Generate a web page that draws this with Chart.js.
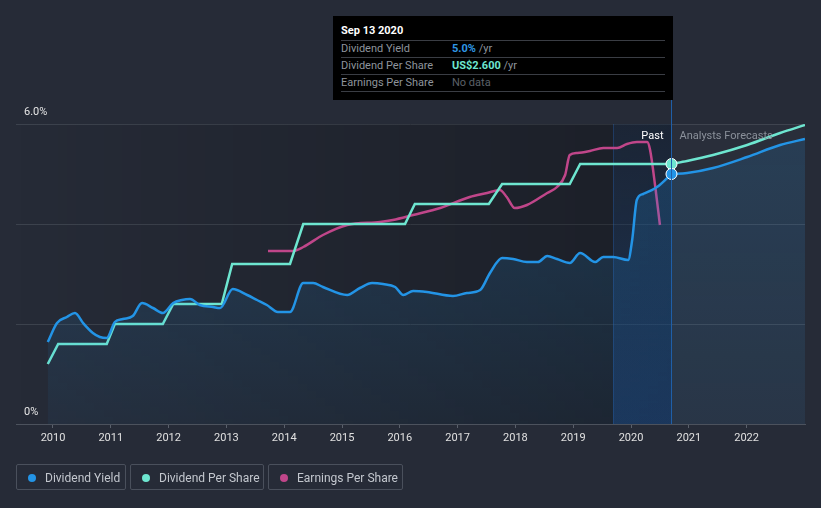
<!DOCTYPE html>
<html>
<head>
<meta charset="utf-8">
<script src="https://cdn.jsdelivr.net/npm/chart.js@4.4.0/dist/chart.umd.min.js"></script>
<style>
  html, body { margin: 0; padding: 0; background: #262b37; font-family: Roboto, "Noto Sans", sans-serif; }
  #wrap { position: relative; width: 821px; height: 508px; }
  canvas { position: absolute; left: 0; top: 0; }
  .tip { position: absolute; left: 333px; top: 16px; width: 340px; height: 84px; background: #000; }
  .tip .date { position: absolute; left: 8px; top: 8px; color: #fff; font-size: 11px; font-weight: bold; }
  .tip .row { position: absolute; left: 8px; width: 324px; height: 16px; border-top: 1px solid #3a3d44; font-size: 11px; line-height: 16px; color: #8e949c; }
  .tip .row span.v { position: absolute; left: 111px; }
  .legend { position: absolute; top: 464px; height: 26px; border: 1px solid #4a505c; border-radius: 2px; color: #c3c7ce; font-size: 12px; line-height: 26px; box-sizing: border-box; }
  .legend i { position: absolute; left: 11px; top: 9px; width: 8px; height: 8px; border-radius: 50%; }
  .legend span { position: absolute; left: 28px; white-space: nowrap; }
</style>
</head>
<body>
<div id="wrap">
  <canvas id="chart" width="821" height="508"></canvas>
  <div class="tip">
    <div class="date">Sep 13 2020</div>
    <div class="row" style="top:24px">Dividend Yield<span class="v"><b style="color:#2f97e6">5.0%</b> /yr</span></div>
    <div class="row" style="top:41px">Dividend Per Share<span class="v"><b style="color:#6ee6d0">US$2.600</b> /yr</span></div>
    <div class="row" style="top:58px;border-bottom:1px solid #3a3d44">Earnings Per Share<span class="v" style="color:#5c6068">No data</span></div>
  </div>
  <div class="legend" style="left:16px;width:110px"><i style="background:#2394e6"></i><span>Dividend Yield</span></div>
  <div class="legend" style="left:130px;width:134px"><i style="background:#6ee6d0"></i><span>Dividend Per Share</span></div>
  <div class="legend" style="left:268px;width:135px"><i style="background:#c0468a"></i><span>Earnings Per Share</span></div>
</div>
<script>
// decimal years
const yieldYears = [2009.91, 2010.07, 2010.24, 2010.38, 2010.52, 2010.69, 2010.81, 2010.93, 2011.07, 2011.21,
  2011.38, 2011.54, 2011.73, 2011.90, 2012.08, 2012.23, 2012.37, 2012.54, 2012.77, 2012.89,
  2013.11, 2013.36, 2013.53, 2013.70, 2013.89, 2014.10, 2014.33, 2014.50, 2014.67, 2015.09,
  2015.31, 2015.52, 2015.71, 2015.92, 2016.06, 2016.23, 2016.47, 2016.92, 2017.16, 2017.39,
  2017.56, 2017.77, 2017.96, 2018.20, 2018.39, 2018.55, 2018.72, 2018.94, 2019.12, 2019.38,
  2019.52, 2019.69, 2019.95, 2020.02, 2020.10, 2020.21, 2020.45, 2020.70];
const yieldPct = [1.64, 2.02, 2.14, 2.22, 2.02, 1.82, 1.74, 1.72, 2.04, 2.10,
  2.16, 2.42, 2.32, 2.22, 2.42, 2.48, 2.50, 2.38, 2.34, 2.32,
  2.70, 2.58, 2.48, 2.38, 2.24, 2.24, 2.82, 2.82, 2.74, 2.58,
  2.72, 2.82, 2.80, 2.74, 2.58, 2.66, 2.64, 2.56, 2.62, 2.68,
  3.02, 3.32, 3.30, 3.24, 3.24, 3.36, 3.30, 3.22, 3.42, 3.24,
  3.34, 3.34, 3.28, 3.68, 4.48, 4.60, 4.74, 5.00];
const yieldFcYears = [2020.70, 2020.97, 2021.42, 2022.01, 2022.58, 2023.01];
const yieldFcPct = [5.00, 5.02, 5.12, 5.34, 5.58, 5.70];

const dpsYears = [2009.91, 2010.09, 2010.93, 2011.07, 2011.90, 2012.08, 2012.92, 2013.10, 2014.10, 2014.33,
  2016.09, 2016.26, 2017.54, 2017.77, 2018.94, 2019.12, 2020.70];
const dpsUsd = [0.60, 0.80, 0.80, 1.00, 1.00, 1.20, 1.20, 1.60, 1.60, 2.00,
  2.00, 2.20, 2.20, 2.40, 2.40, 2.60, 2.60];
const dpsFcYears = [2020.70, 2020.97, 2021.42, 2022.01, 2022.58, 2023.01];
const dpsFcUsd = [2.60, 2.63, 2.69, 2.79, 2.91, 2.99];

const epsYears = [2013.72, 2014.15, 2014.33, 2014.67, 2015.09, 2015.66, 2015.88, 2016.23, 2016.70, 2017.21,
  2017.51, 2017.73, 2017.85, 2017.99, 2018.20, 2018.55, 2018.72, 2018.86, 2018.94, 2019.07,
  2019.29, 2019.52, 2019.76, 2019.93, 2020.10, 2020.28, 2020.33, 2020.42, 2020.50];
const epsUsd = [6.92, 6.92, 7.08, 7.56, 7.96, 8.08, 8.16, 8.36, 8.64, 9.08,
  9.24, 9.36, 9.08, 8.64, 8.76, 9.24, 9.48, 9.96, 10.76, 10.84,
  10.92, 11.04, 11.04, 11.20, 11.28, 11.28, 10.96, 9.48, 7.96];

const xTickYears = [2010, 2011, 2012, 2013, 2014, 2015, 2016, 2017, 2018, 2019, 2020, 2021, 2022];
const yTickLabels = { 0: "0%", 6: "6.0%" };
const nowYear = 2020.70;
const bandStart = 2019.69;

const pts = (xs, ys) => xs.map((x, i) => ({ x: x, y: ys[i] }));
const marker = ctx => (ctx.raw && ctx.raw.x === nowYear ? 5.5 : 0);

const bgPlugin = {
  id: "bg",
  beforeDatasetsDraw(chart) {
    const { ctx, chartArea: a, scales } = chart;
    const xNow = scales.x.getPixelForValue(nowYear);
    const xBand = scales.x.getPixelForValue(bandStart);
    ctx.save();
    // past region darkening
    let g = ctx.createLinearGradient(a.left, 0, xNow, 0);
    g.addColorStop(0, "rgba(0,0,0,0)");
    g.addColorStop(1, "rgba(0,0,0,0.28)");
    ctx.fillStyle = g;
    ctx.fillRect(a.left, a.top, xNow - a.left, a.bottom - a.top);
    // forecast region
    ctx.fillStyle = "rgba(255,255,255,0.015)";
    ctx.fillRect(xNow, a.top, a.right - xNow, a.bottom - a.top);
    // highlight band
    g = ctx.createLinearGradient(0, a.top, 0, a.bottom);
    g.addColorStop(0, "rgba(25,90,170,0.10)");
    g.addColorStop(1, "rgba(25,95,190,0.30)");
    ctx.fillStyle = g;
    ctx.fillRect(xBand, a.top, xNow - xBand, a.bottom - a.top);
    ctx.strokeStyle = "rgba(40,100,180,0.35)";
    ctx.lineWidth = 1;
    ctx.beginPath();
    ctx.moveTo(Math.round(xBand) + 0.5, a.top);
    ctx.lineTo(Math.round(xBand) + 0.5, a.bottom);
    ctx.stroke();
    ctx.restore();
  },
  afterDatasetsDraw(chart) {
    const { ctx, chartArea: a, scales } = chart;
    const xNow = scales.x.getPixelForValue(nowYear);
    ctx.save();
    ctx.strokeStyle = "#1f5fa8";
    ctx.lineWidth = 1;
    ctx.beginPath();
    ctx.moveTo(Math.round(xNow) + 0.5, 100);
    ctx.lineTo(Math.round(xNow) + 0.5, a.bottom);
    ctx.stroke();
    ctx.font = "11px Roboto";
    ctx.textBaseline = "middle";
    ctx.textAlign = "right";
    ctx.fillStyle = "#ffffff";
    ctx.fillText("Past", xNow - 8, a.top + 12);
    ctx.textAlign = "left";
    ctx.fillStyle = "#8b919b";
    ctx.fillText("Analysts Forecasts", xNow + 8, a.top + 12);
    // y labels
    ctx.fillStyle = "#e6e6e6";
    Object.keys(yTickLabels).forEach(v => {
      const y = scales.y.getPixelForValue(Number(v));
      ctx.fillText(yTickLabels[v], 24, y - 12);
    });
    ctx.restore();
  }
};

const canvas = document.getElementById("chart");
const c2d = canvas.getContext("2d");
const fillPast = c2d.createLinearGradient(0, 124, 0, 424);
fillPast.addColorStop(0, "rgba(35,148,230,0.22)");
fillPast.addColorStop(1, "rgba(35,148,230,0.05)");
const fillFc = c2d.createLinearGradient(0, 124, 0, 424);
fillFc.addColorStop(0, "rgba(35,148,230,0.16)");
fillFc.addColorStop(1, "rgba(35,148,230,0.08)");

new Chart(canvas, {
  type: "line",
  data: {
    datasets: [
      { data: pts(yieldYears, yieldPct), yAxisID: "y", borderColor: "#2394e6", borderWidth: 2.5,
        fill: "origin", backgroundColor: fillPast, cubicInterpolationMode: "monotone",
        pointRadius: marker, pointBackgroundColor: "#2394e6", pointBorderColor: "#fff", pointBorderWidth: 1 },
      { data: pts(yieldFcYears, yieldFcPct), yAxisID: "y", borderColor: "#2394e6", borderWidth: 2.5,
        fill: "origin", backgroundColor: fillFc, cubicInterpolationMode: "monotone", pointRadius: 0 },
      { data: pts(dpsYears, dpsUsd), yAxisID: "dps", borderColor: "#6ee6d0", borderWidth: 2.5,
        tension: 0, pointRadius: marker, pointBackgroundColor: "#6ee6d0", pointBorderColor: "#fff", pointBorderWidth: 1 },
      { data: pts(dpsFcYears, dpsFcUsd), yAxisID: "dps", borderColor: "#6ee6d0", borderWidth: 2.5,
        cubicInterpolationMode: "monotone", pointRadius: 0 },
      { data: pts(epsYears, epsUsd), yAxisID: "eps", borderColor: "#c0468a", borderWidth: 2.5,
        cubicInterpolationMode: "monotone", pointRadius: 0 }
    ]
  },
  options: {
    responsive: false,
    animation: false,
    layout: { padding: { left: 16, right: 16, top: 124, bottom: 60 } },
    plugins: { legend: { display: false }, tooltip: { enabled: false } },
    scales: {
      x: {
        type: "linear", min: 2009.36, max: 2023.01,
        afterBuildTicks: s => { s.ticks = xTickYears.map(v => ({ value: v })); },
        afterFit: s => { s.height = 24; },
        ticks: { color: "#e0e0e0", font: { family: "Roboto", size: 11 }, padding: 4,
          callback: v => String(v), maxRotation: 0, autoSkip: false },
        grid: { drawOnChartArea: false, tickLength: 4, color: "#5a606b" },
        border: { color: "#4c525d" }
      },
      y: {
        min: 0, max: 6,
        ticks: { display: false, stepSize: 2 },
        grid: { color: "#3c424d", drawTicks: false },
        border: { display: false }
      },
      dps: { display: false, min: 0, max: 3 },
      eps: { display: false, min: 0, max: 12 }
    }
  },
  plugins: [bgPlugin]
});
</script>
</body>
</html>
